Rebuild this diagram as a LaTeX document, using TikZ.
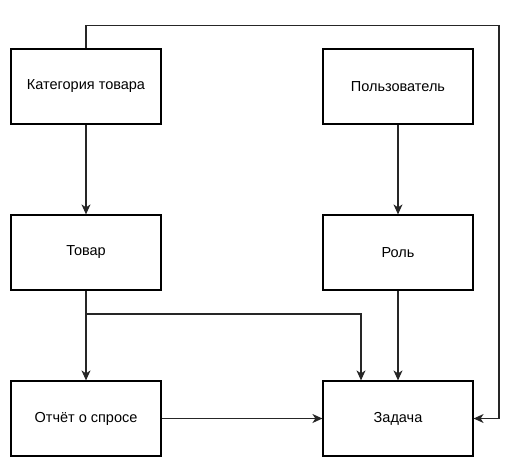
\documentclass[tikz,border=0pt]{standalone}
\usepackage{fontspec}
\setmainfont{Liberation Sans}
\usetikzlibrary{arrows.meta}
\begin{document}
\begin{tikzpicture}[x=1pt,y=-1pt,
  box/.style={draw, line width=1.2pt, minimum width=150pt, minimum height=75pt, inner sep=0pt, font=\fontsize{14.5}{16}\selectfont, text=black},
  conn/.style={draw=black!85, line width=1.2pt, -{Stealth[length=10pt,width=9pt,inset=3pt]}}]
\useasboundingbox (0,0) rectangle (527,467);
\node[box] (kat) at (86,86.5) {Категория товара};
\node[box] (pol) at (398,86.5) {Пользователь};
\node[box] (tov) at (86,252.5) {Товар};
\node[box] (rol) at (398,252.5) {Роль};
\node[box] (otc) at (86,418.5) {Отчёт о спросе};
\node[box] (zad) at (398,418.5) {Задача};
\coordinate (j) at (86,314);
\draw[conn] (kat) -- (tov);
\draw[conn] (pol) -- (rol);
\draw[conn] (rol) -- (zad);
\draw[conn] (tov.south) -- (otc.north);
\draw[conn] (j) -| (zad.north -| 361,0);
\draw[conn] (otc) -- (zad);
\draw[conn] (kat.north) |- (499,25.5) |- (zad.east);
\end{tikzpicture}
\end{document}
